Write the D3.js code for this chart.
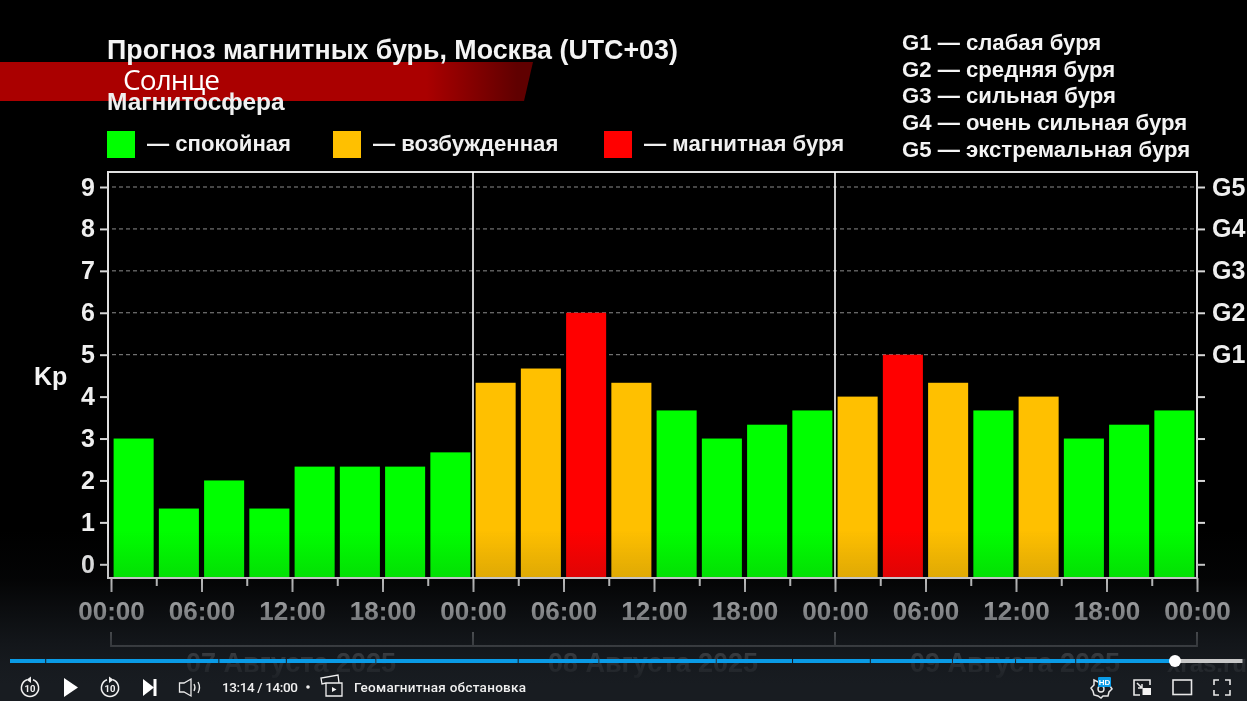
<!DOCTYPE html>
<html>
<head>
<meta charset="utf-8">
<script src="https://cdn.jsdelivr.net/npm/d3@7"></script>
<style>
  html, body { margin: 0; padding: 0; background: #000; overflow: hidden; }
  svg { display: block; }
  text { font-family: "Liberation Sans", Arial, sans-serif; font-weight: bold; }
</style>
</head>
<body>
<div id="vis-holder"></div>
<script>
// Chart data
const kpValues = [3, 1.33, 2, 1.33, 2.33, 2.33, 2.33, 2.67,
                  4.33, 4.67, 6, 4.33, 3.67, 3, 3.33, 3.67,
                  4, 5, 4.33, 3.67, 4, 3, 3.33, 3.67];
const kpTicks = [0, 1, 2, 3, 4, 5, 6, 7, 8, 9];
const stormTicks = [5, 6, 7, 8, 9];
const stormLabels = ["G1", "G2", "G3", "G4", "G5"];
const stormNotes = ["G1 — слабая буря", "G2 — средняя буря", "G3 — сильная буря", "G4 — очень сильная буря", "G5 — экстремальная буря"];
const hourTicks = d3.range(0, 73, 3);
const hourLabels = ["00:00", "06:00", "12:00", "18:00"];
const dayEdges = [0, 24, 48, 72];
const dayLabels = ["07 Августа 2025", "08 Августа 2025", "09 Августа 2025"];
const stateLabels = ["— спокойная", "— возбужденная", "— магнитная буря"];
const stateColors = ["#00ff00", "#ffc000", "#ff0000"];
const kpBreaks = [4, 5];

// Player: chapter ends in seconds on a 14:00 timeline
const chapterEnds = [24, 142, 188, 249, 346, 401, 481, 533, 586, 642, 685, 726, 794];
const videoLength = 840;
const videoPosition = 794;

const width = 1247;
const height = 701;
const plot = { left: 108, right: 1197, top: 172, bottom: 578 };

const svg = d3.select("#vis-holder")
              .append("svg")
              .attr("width", width)
              .attr("height", height)
              .attr("viewBox", [0, 0, width, height]);

const defs = svg.append("defs");

const fade = defs.append("linearGradient").attr("id", "fade")
                 .attr("x1", 0).attr("x2", 0).attr("y1", 0).attr("y2", 1);
[[0, 0], [0.28, 0.14], [0.46, 0.46], [0.66, 0.78], [0.78, 0.92], [0.9, 1], [1, 1]].forEach((s) => {
  fade.append("stop").attr("offset", s[0]).attr("stop-color", "#181c21").attr("stop-opacity", s[1]);
});

const bannerFill = defs.append("linearGradient").attr("id", "bannerFill");
bannerFill.append("stop").attr("offset", 0).attr("stop-color", "#aa0000");
bannerFill.append("stop").attr("offset", 0.8).attr("stop-color", "#aa0000");
bannerFill.append("stop").attr("offset", 0.97).attr("stop-color", "#600000");

defs.append("filter").attr("id", "soft")
    .append("feGaussianBlur").attr("stdDeviation", 0.45);

// Red news banner, sits behind the headings
svg.append("path")
   .attr("d", "M0,62H533L524,101H0Z")
   .attr("fill", "url(#bannerFill)");

const chart = svg.append("g").attr("filter", "url(#soft)");

// Scales
const x = d3.scaleLinear().domain([0, 72]).range([111, 1197]);
const y = d3.scaleLinear().domain([0, 9]).range([564.3, 187]);
const color = d3.scaleThreshold().domain(kpBreaks).range(stateColors);

// Headings
chart.append("text").attr("x", 107).attr("y", 59)
     .attr("font-size", 26.8).attr("fill", "#f4f4f4")
     .text("Прогноз магнитных бурь, Москва (UTC+03)");
chart.append("text").attr("x", 107).attr("y", 110)
     .attr("font-size", 24.5).attr("fill", "#f0f0f0")
     .text("Магнитосфера");

chart.selectAll(".note")
     .data(stormNotes)
     .enter()
     .append("text")
     .attr("class", "note")
     .attr("x", 902)
     .attr("y", (d, i) => 50 + i * 26.7)
     .attr("font-size", 22.15)
     .attr("fill", "#f4f4f4")
     .text((d) => d);

// State legend
const legendX = d3.scaleOrdinal().domain(stateLabels).range([107, 333, 604]);
chart.selectAll(".swatch")
     .data(stateLabels)
     .enter()
     .append("rect")
     .attr("class", "swatch")
     .attr("x", (d) => legendX(d))
     .attr("y", 131)
     .attr("width", 28)
     .attr("height", 27)
     .attr("fill", (d, i) => stateColors[i]);
chart.selectAll(".state")
     .data(stateLabels)
     .enter()
     .append("text")
     .attr("class", "state")
     .attr("x", (d) => legendX(d) + 40)
     .attr("y", 151)
     .attr("font-size", 22.15)
     .attr("fill", "#f0f0f0")
     .text((d) => d);

// Grid, only from the storm levels up
chart.selectAll(".grid")
     .data(stormTicks)
     .enter()
     .append("line")
     .attr("class", "grid")
     .attr("x1", plot.left + 4)
     .attr("x2", plot.right)
     .attr("y1", (d) => y(d))
     .attr("y2", (d) => y(d))
     .attr("stroke", "#8c8c8c")
     .attr("stroke-dasharray", "4 3");

// Bars
chart.selectAll(".bar")
     .data(kpValues)
     .enter()
     .append("rect")
     .attr("class", "bar")
     .attr("x", (d, i) => x(i * 3) + 2.6)
     .attr("y", (d) => y(d))
     .attr("width", x(3) - x(0) - 5.2)
     .attr("height", (d) => plot.bottom - y(d))
     .attr("fill", (d) => color(d));

// Frame and day separators
chart.append("rect")
     .attr("x", plot.left).attr("y", plot.top)
     .attr("width", plot.right - plot.left).attr("height", plot.bottom - plot.top)
     .attr("fill", "none").attr("stroke", "#e0e0e0").attr("stroke-width", 2);
chart.selectAll(".day-line")
     .data(dayEdges.slice(1, 3))
     .enter()
     .append("line")
     .attr("class", "day-line")
     .attr("x1", (d) => x(d))
     .attr("x2", (d) => x(d))
     .attr("y1", plot.top)
     .attr("y2", plot.bottom)
     .attr("stroke", "#ffffff")
     .attr("stroke-width", 1.6);

// Axes
function styleAxis(g, fontSize) {
  g.select(".domain").remove();
  g.selectAll("line").attr("stroke", "#d8d8d8").attr("stroke-width", 2);
  g.selectAll("text").attr("font-size", fontSize).attr("fill", "#efefef");
}

chart.append("g")
     .attr("transform", `translate(${plot.left},0)`)
     .call(d3.axisLeft(y).tickValues(kpTicks).tickFormat(d3.format("d")).tickSize(8).tickPadding(5))
     .call(styleAxis, 25);

chart.append("g")
     .attr("transform", `translate(${plot.right},0)`)
     .call(d3.axisRight(y).tickValues(kpTicks).tickSize(8).tickPadding(7)
             .tickFormat((d) => d >= 5 ? stormLabels[stormTicks.indexOf(d)] : ""))
     .call(styleAxis, 25);

const xAxis = chart.append("g")
     .attr("transform", `translate(0,${plot.bottom})`)
     .call(d3.axisBottom(x).tickValues(hourTicks).tickSize(14).tickPadding(10)
             .tickFormat((d) => d % 6 === 0 ? hourLabels[(d % 24) / 6] : ""))
     .call(styleAxis, 26);
xAxis.selectAll(".tick").filter((d) => d % 6 !== 0).select("line").attr("y2", 8);

chart.append("text")
     .attr("x", 34).attr("y", 385)
     .attr("font-size", 25).attr("fill", "#f4f4f4")
     .text("Kp");

// Day brackets under the axis
const bracket = chart.selectAll(".bracket")
     .data(dayLabels)
     .enter()
     .append("g")
     .attr("class", "bracket");
bracket.append("path")
     .attr("d", (d, i) => `M${x(dayEdges[i])},632V646H${x(dayEdges[i + 1])}V632`)
     .attr("fill", "none")
     .attr("stroke", "#b8b8b8")
     .attr("stroke-width", 1.8);
bracket.append("text")
     .attr("x", (d, i) => (x(dayEdges[i]) + x(dayEdges[i + 1])) / 2 - 1)
     .attr("y", 672)
     .attr("text-anchor", "middle")
     .attr("font-size", 27)
     .attr("fill", "#efefef")
     .text((d) => d);
chart.append("text")
     .attr("x", 1247).attr("y", 672)
     .attr("text-anchor", "end")
     .attr("font-size", 24).attr("fill", "#efefef")
     .text("xras.ru");

// Video fade over the bottom of the frame
svg.append("rect")
   .attr("x", 0).attr("y", 530)
   .attr("width", width).attr("height", height - 530)
   .attr("fill", "url(#fade)");

// Banner caption
svg.append("text")
   .attr("x", 123).attr("y", 90)
   .attr("font-size", 28)
   .attr("fill", "#ffffff")
   .style("font-family", "'Open Sans', sans-serif")
   .style("font-weight", 400)
   .attr("textLength", 97)
   .text("Солнце");

// Player progress bar
const timeline = d3.scaleLinear().domain([0, videoLength]).range([10, 1242.5]);
const player = svg.append("g");

player.append("rect")
      .attr("x", timeline(videoPosition)).attr("y", 659)
      .attr("width", timeline(videoLength) - timeline(videoPosition)).attr("height", 4)
      .attr("fill", "#c8c8c8");
player.selectAll(".chapter")
      .data(chapterEnds)
      .enter()
      .append("rect")
      .attr("class", "chapter")
      .attr("x", (d, i) => timeline(i ? chapterEnds[i - 1] : 0) + (i ? 1 : 0))
      .attr("y", 659)
      .attr("width", (d, i) => timeline(d) - timeline(i ? chapterEnds[i - 1] : 0) - (i ? 1 : 0))
      .attr("height", 4)
      .attr("fill", "#0a9be6");
player.append("circle")
      .attr("cx", timeline(videoPosition)).attr("cy", 661).attr("r", 6)
      .attr("fill", "#ffffff");

// Player controls
function replayIcon(cx) {
  const g = player.append("g").attr("transform", `translate(${cx},688)`);
  g.append("path")
   .attr("d", "M-3,-8.2A8.6,8.6 0 1 0 3,-8.2")
   .attr("fill", "none").attr("stroke", "#f0f0f0").attr("stroke-width", 1.5);
  g.append("text").attr("text-anchor", "middle").attr("y", 3.5)
   .attr("font-size", 9.5).attr("fill", "#f0f0f0")
   .style("font-family", "Roboto").text("10");
  return g;
}
replayIcon(30).append("path").attr("d", "M-3.5,-8.2L1,-11.5V-5Z").attr("fill", "#f0f0f0");
replayIcon(110).append("path").attr("d", "M3.5,-8.2L-1,-11.5V-5Z").attr("fill", "#f0f0f0");

player.append("path").attr("d", "M64,678L78,687.5L64,697Z").attr("fill", "#ffffff");
player.append("path").attr("d", "M143,679L154,687.5L143,696Z").attr("fill", "#ffffff");
player.append("rect").attr("x", 153.5).attr("y", 679).attr("width", 3).attr("height", 17).attr("fill", "#ffffff");

player.append("path")
      .attr("d", "M179.5,683H184L191,679V696L184,692H179.5Z")
      .attr("fill", "none").attr("stroke", "#e8e8e8").attr("stroke-width", 1.3);
player.append("path")
      .attr("d", "M194,684Q196,687.5 194,691M198,682Q201,687.5 198,693")
      .attr("fill", "none").attr("stroke", "#e8e8e8").attr("stroke-width", 1.3);

player.append("text")
      .attr("x", 222).attr("y", 692)
      .attr("font-size", 13.5).attr("fill", "#f0f0f0")
      .style("font-family", "Roboto").style("font-weight", 500)
      .attr("textLength", 76)
      .text("13:14 / 14:00");
player.append("circle").attr("cx", 308).attr("cy", 687).attr("r", 1.8).attr("fill", "#f0f0f0");

player.append("path")
      .attr("d", "M326,683V696H342V683ZM326,683L322,684L321,678L338,675L339,683")
      .attr("fill", "none").attr("stroke", "#f0f0f0").attr("stroke-width", 1.3);
player.append("path").attr("d", "M332,687L336.5,689.5L332,692Z").attr("fill", "#f0f0f0");

player.append("text")
      .attr("x", 354).attr("y", 692)
      .attr("font-size", 13.5).attr("fill", "#f0f0f0")
      .style("font-family", "Roboto").style("font-weight", 500)
      .attr("textLength", 172)
      .text("Геомагнитная обстановка");

// Right side icons
player.append("path")
      .attr("d", "M1094,680L1098,682L1102,680L1106,682L1110,681L1110,686L1112,689L1109,692L1108,696L1103,696L1101,698L1098,696L1094,695L1093,691L1091,688L1094,685Z")
      .attr("fill", "none").attr("stroke", "#e8e8e8").attr("stroke-width", 1.5);
player.append("circle").attr("cx", 1101).attr("cy", 689).attr("r", 3)
      .attr("fill", "none").attr("stroke", "#e8e8e8").attr("stroke-width", 1.4);
player.append("rect").attr("x", 1098).attr("y", 677).attr("width", 13).attr("height", 10).attr("rx", 1).attr("fill", "#0a9be6");
player.append("text").attr("x", 1104.5).attr("y", 685.3).attr("text-anchor", "middle")
      .attr("font-size", 8).attr("fill", "#ffffff").text("HD");

player.append("path")
      .attr("d", "M1140,695H1134V680H1150V685")
      .attr("fill", "none").attr("stroke", "#e8e8e8").attr("stroke-width", 1.6);
player.append("rect").attr("x", 1142.5).attr("y", 688).attr("width", 8.5).attr("height", 7).attr("fill", "#f4f4f4");
player.append("path").attr("d", "M1137,683L1142,688M1142,684V688H1138")
      .attr("fill", "none").attr("stroke", "#e8e8e8").attr("stroke-width", 1.5);

player.append("rect").attr("x", 1173).attr("y", 680).attr("width", 18.5).attr("height", 14.5)
      .attr("fill", "none").attr("stroke", "#e8e8e8").attr("stroke-width", 1.6);

player.append("path")
      .attr("d", "M1214,685V680H1219M1225,680H1230V685M1230,690V695H1225M1219,695H1214V690")
      .attr("fill", "none").attr("stroke", "#e8e8e8").attr("stroke-width", 1.6);
</script>
</body>
</html>
